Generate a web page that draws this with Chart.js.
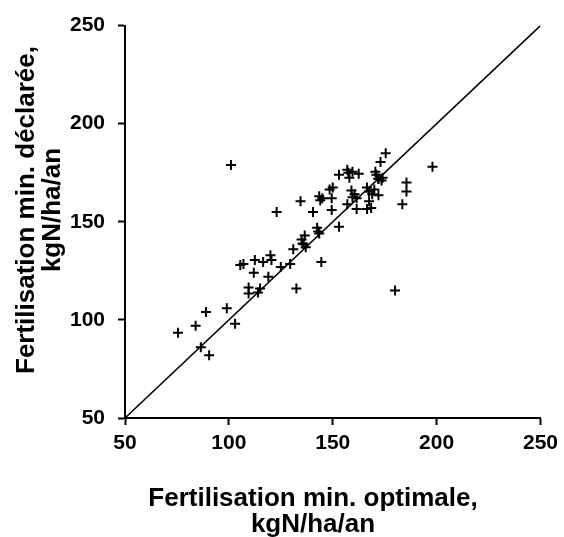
<!DOCTYPE html>
<html>
<head>
<meta charset="utf-8">
<script src="https://cdn.jsdelivr.net/npm/chart.js@4.4.1/dist/chart.umd.min.js"></script>
<style>
body{margin:0;background:#fff;}
#wrap{width:564px;height:537px;position:relative;}
</style>
</head>
<body>
<div id="wrap"><canvas id="scatter"></canvas></div>
<script>
// optimal (x) vs declared (y) mineral fertilisation, kgN/ha/an
const optimale=[101,198,175.5,173,170.5,172,174,173.5,172,185.5,185.5,183.5,180,153,157,158,159.5,162.5,157.5,150,148.5,149.5,149.5,143.5,145,144,134.5,140.5,123,153,142.5,143,143.5,144.5,136.5,135,135.5,137,136,131,129.5,125,132.5,120,120.5,116.5,112.5,112,107,105.5,119,109.5,109.5,114,115,99,103,89,84,75.5,86.5,90.5,160.5,161.5,159.5,161.5,159,157,166.5,167.5,167.5,166.5,168.5,169,170,172,171];
const declaree=[179,178,185,180.5,175.5,172,172.5,171,163.5,170,165.5,159,115,174,176.5,172.5,175.5,174.5,175,167.5,166.5,162,156,163,162,161,160.5,155,155,147.5,147,145,144,129.5,143,141,139,137,138.5,136,128.5,127,116,133,130.5,129.5,130.5,124,128.5,128,122,116.5,113.5,114,116,106,98,104,97,93.5,86,82,164,162,162.5,156.5,166,159,167.5,165.5,160.5,156.5,157,164,166.5,172,174];
const ligne_x=[50,250];   // 1:1 line
const ligne_y=[50,250];
const ticks_axes=[50,100,150,200,250];

const titreX=['Fertilisation min. optimale,','kgN/ha/an'];
const titreY=['Fertilisation min. déclarée,','kgN/ha/an'];

const police='"Liberation Sans", Arial, sans-serif';

let points=[];
for(let i=0;i<optimale.length;i++){
	points.push({x:optimale[i],y:declaree[i]});
}
let ligne=ligne_x.map(function(v,i){return {x:v,y:ligne_y[i]};});

// axis titles drawn by hand so they sit where the original puts them
const titres={
	id:'titres',
	afterDraw:function(chart){
		const ctx=chart.ctx;
		ctx.save();
		ctx.fillStyle='#000';
		ctx.font='bold 26px '+police;
		ctx.textAlign='center';
		ctx.textBaseline='alphabetic';
		ctx.fillText(titreX[0],313,506);
		ctx.fillText(titreX[1],313,532);
		ctx.translate(0,210);
		ctx.rotate(-Math.PI/2);
		ctx.fillText(titreY[0],0,34);
		ctx.fillText(titreY[1],0,60);
		ctx.restore();
	}
};

function axe(){
	return {
		type:'linear',
		min:ticks_axes[0],
		max:ticks_axes[ticks_axes.length-1],
		afterBuildTicks:function(scale){
			scale.ticks=ticks_axes.map(function(v){return {value:v};});
		},
		grid:{display:true,drawOnChartArea:false,drawTicks:true,tickLength:7,tickColor:'#000',tickWidth:2},
		border:{display:true,color:'#000',width:2},
		ticks:{color:'#000',font:{family:police,size:21,weight:'bold'}}
	};
}

let sx=axe();
sx.position='bottom';
sx.ticks.padding=6;
sx.ticks.maxRotation=0;
sx.afterFit=function(scale){scale.height=119;};

let sy=axe();
sy.position='left';
sy.ticks.padding=13;
sy.afterFit=function(scale){scale.width=125;};

var ctx=document.getElementById('scatter').getContext('2d');
var chart=new Chart(ctx,{
	type:'scatter',
	data:{
		datasets:[{
			data:points,
			pointStyle:'cross',
			pointRadius:5,
			pointBorderWidth:2,
			borderColor:'#000',
			backgroundColor:'#000'
		},{
			type:'line',
			data:ligne,
			borderColor:'#000',
			borderWidth:1.5,
			pointRadius:0,
			fill:false
		}]
	},
	options:{
		responsive:true,
		maintainAspectRatio:false,
		animation:false,
		layout:{padding:{top:20,right:21,left:0,bottom:0}},
		plugins:{legend:{display:false},tooltip:{enabled:false}},
		scales:{x:sx,y:sy}
	},
	plugins:[titres]
});
</script>
</body>
</html>
